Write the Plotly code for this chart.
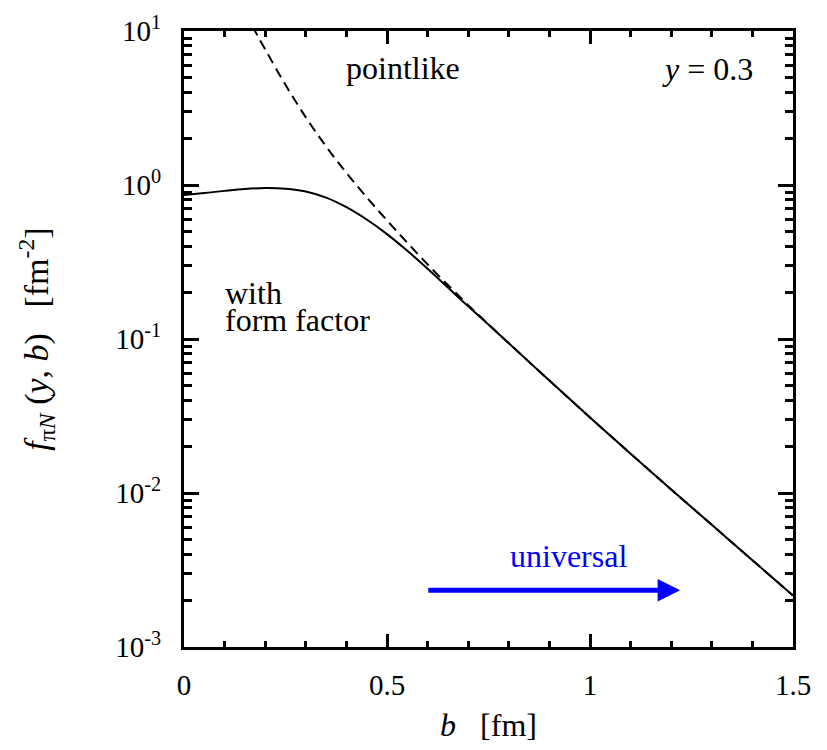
import math
import plotly.graph_objects as go

# impact parameter b [fm]
b_ff = [0.0, 0.05, 0.1, 0.15, 0.2, 0.25, 0.3, 0.35, 0.4, 0.45, 0.5, 0.55, 0.6,
        0.65, 0.7, 0.75, 0.8, 0.9, 1.0, 1.1, 1.2, 1.3, 1.4, 1.5]
# with form factor
f_ff = [0.861, 0.887, 0.916, 0.942, 0.955, 0.946, 0.908, 0.828, 0.718, 0.597,
        0.480, 0.374, 0.286, 0.216, 0.163, 0.124, 0.0938, 0.0537, 0.0309, 0.0180,
        0.01054, 0.00621, 0.00366, 0.00216]

# pointlike
b_pl = [0.15, 0.175, 0.2, 0.25, 0.3, 0.35, 0.4, 0.45, 0.5, 0.55, 0.6, 0.65, 0.7,
        0.75, 0.8, 0.9, 1.0, 1.1, 1.2, 1.3, 1.4, 1.5]
f_pl = [13.2, 10.0, 7.59, 4.47, 2.75, 1.78, 1.20, 0.832, 0.589, 0.422, 0.305,
        0.224, 0.166, 0.1245, 0.0939, 0.0537, 0.0309, 0.0180, 0.01054, 0.00621,
        0.00366, 0.00216]

y_tickvals = [1e-3, 1e-2, 1e-1, 1e0, 1e1]
y_ticktext = ["10<sup>-3</sup>", "10<sup>-2</sup>", "10<sup>-1</sup>",
              "10<sup>0</sup>", "10<sup>1</sup>"]
x_tickvals = [0, 0.5, 1, 1.5]
x_ticktext = ["0", "0.5", "1", "1.5"]

# universal arrow (b range, height)
arrow_b = [0.598, 1.222]
arrow_f = 0.00234

FONT = "Liberation Serif, Times New Roman, DejaVu Serif, serif"
TICK = 29
TXT = 32

fig = go.Figure()
fig.add_trace(go.Scatter(x=b_pl, y=f_pl, mode="lines",
                         line=dict(color="black", width=2, dash="10px,6px", shape="spline"),
                         showlegend=False, hoverinfo="skip"))
fig.add_trace(go.Scatter(x=b_ff, y=f_ff, mode="lines",
                         line=dict(color="black", width=2, shape="spline"),
                         showlegend=False, hoverinfo="skip"))

minor_y = [m * 10 ** e for e in range(-3, 1) for m in range(2, 10)]

fig.update_layout(
    width=827, height=750,
    margin=dict(l=176, r=42, t=23, b=111, autoexpand=False),
    paper_bgcolor="white", plot_bgcolor="white",
    font=dict(family=FONT, size=TICK, color="black"),
    showlegend=False,
    xaxis=dict(range=[0, 1.5], tickmode="array", tickvals=x_tickvals, ticktext=x_ticktext,
               automargin=False,
               ticks="inside", ticklen=13, tickwidth=3, tickcolor="black",
               showline=True, linewidth=3, linecolor="black", mirror="allticks",
               showgrid=False, zeroline=False, ticklabelstandoff=10,
               tickfont=dict(family=FONT, size=TICK),
               minor=dict(tickmode="linear", tick0=0, dtick=0.1, ticks="inside",
                          ticklen=6, tickwidth=3, tickcolor="black", showgrid=False),
               title=dict(text="<i>b</i>   [fm]", standoff=14,
                          font=dict(family=FONT, size=TXT))),
    yaxis=dict(type="log", range=[-3, 1], tickmode="array", tickvals=y_tickvals,
               ticktext=y_ticktext, automargin=False,
               ticks="inside", ticklen=15, tickwidth=3, tickcolor="black",
               showline=True, linewidth=3, linecolor="black", mirror="allticks",
               showgrid=False, zeroline=False, ticklabelstandoff=14,
               tickfont=dict(family=FONT, size=TICK),
               minor=dict(tickmode="array", tickvals=minor_y, ticks="inside",
                          ticklen=8, tickwidth=3, tickcolor="black", showgrid=False),
               title=dict(text="<i>f</i><sub>π<i>N</i></sub> (<i>y</i>, <i>b</i>)   [fm<sup>-2</sup>]",
                          standoff=57, font=dict(family=FONT, size=34))),
)

fig.add_annotation(x=0.36, y=0.94, xref="paper", yref="paper", text="pointlike",
                   showarrow=False, font=dict(family=FONT, size=TXT), xanchor="center", yanchor="middle")
fig.add_annotation(x=0.859, y=0.938, xref="paper", yref="paper", text="<i>y</i> = 0.3",
                   showarrow=False, font=dict(family=FONT, size=TXT), xanchor="center", yanchor="middle")
fig.add_annotation(x=0.064, y=0.575, xref="paper", yref="paper", text="with",
                   showarrow=False, align="left", font=dict(family=FONT, size=TXT),
                   xanchor="left", yanchor="middle")
fig.add_annotation(x=0.064, y=0.531, xref="paper", yref="paper", text="form factor",
                   showarrow=False, align="left", font=dict(family=FONT, size=TXT),
                   xanchor="left", yanchor="middle")
fig.add_annotation(x=0.631, y=0.148, xref="paper", yref="paper", text="universal",
                   showarrow=False, font=dict(family=FONT, size=TXT, color="blue"),
                   xanchor="center", yanchor="middle")
fig.add_annotation(x=arrow_b[1], y=math.log10(arrow_f), ax=arrow_b[0], ay=math.log10(arrow_f),
                   xref="x", yref="y", axref="x", ayref="y", text="", showarrow=True,
                   arrowhead=2, arrowsize=0.9, arrowwidth=5, arrowcolor="blue")

fig.write_html("out.html")
